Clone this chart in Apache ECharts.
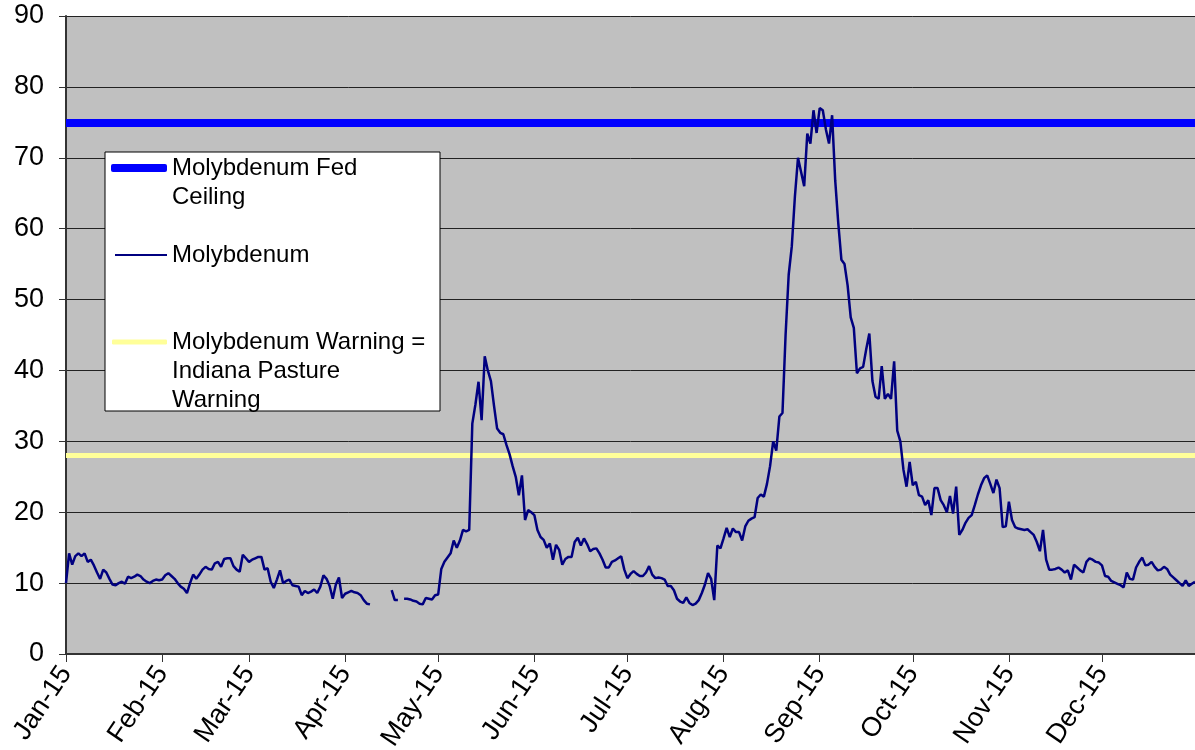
<!DOCTYPE html>
<html>
<head>
<meta charset="utf-8">
<script src="https://cdn.jsdelivr.net/npm/echarts@6/dist/echarts.min.js"></script>
<style>
  html, body { margin: 0; padding: 0; background: #fff; }
  #main { width: 1195px; height: 750px; }
</style>
</head>
<body>
<div id="main"></div>
<script>
// daily Molybdenum readings, one array per month (null = no reading)
const jan = [10.0, 14.2, 12.6, 13.8, 14.2, 13.8, 14.2, 13.0, 13.3, 12.5, 11.5, 10.6, 11.9, 11.5, 10.6, 9.8,
             9.7, 10.0, 10.2, 9.9, 10.9, 10.7, 10.9, 11.2, 11.0, 10.5, 10.2, 10.0, 10.3, 10.5, 10.4];
const feb = [10.5, 11.1, 11.4, 11.0, 10.6, 10.0, 9.5, 9.2, 8.6, 10.0, 11.2, 10.6, 11.2, 11.9, 12.3, 12.0,
             11.9, 12.8, 13.0, 12.3, 13.4, 13.5, 13.5, 12.4, 11.9, 11.6, 14.0, 13.5];
const mar = [13.0, 13.3, 13.5, 13.7, 13.7, 11.9, 12.1, 10.2, 9.3, 10.5, 11.8, 10.0, 10.3, 10.5, 9.7, 9.6,
             9.5, 8.3, 8.9, 8.6, 8.8, 9.1, 8.6, 9.5, 11.1, 10.6, 9.6, 7.8, 9.8, 10.8, 7.9];
const apr = [8.5, 8.7, 8.9, 8.7, 8.6, 8.3, 7.6, 7.1, 7.0, null, null, null, null, null, null, 9.0,
             7.6, 7.6, null, 7.8, 7.8, 7.7, 7.5, 7.4, 7.1, 7.0, 7.9, 7.8, 7.7, 8.3];
const may = [8.4, 12.0, 13.0, 13.6, 14.2, 16.0, 15.0, 16.0, 17.5, 17.3, 17.5, 32.5, 35.2, 38.4, 33.0, 42.0,
             40.0, 38.5, 35.0, 31.8, 31.2, 31.0, 29.5, 28.2, 26.5, 25.0, 22.4, 25.2, 18.9, 20.3, 20.0];
const jun = [19.6, 17.5, 16.5, 16.1, 15.0, 15.6, 13.3, 15.4, 14.7, 12.6, 13.4, 13.7, 13.7, 15.8, 16.4, 15.3,
             16.3, 15.5, 14.5, 14.8, 14.9, 14.2, 13.3, 12.2, 12.2, 13.0, 13.2, 13.5, 13.8, 11.9];
const jul = [10.7, 11.3, 11.7, 11.3, 11.0, 11.0, 11.5, 12.4, 11.2, 10.7, 10.8, 10.7, 10.5, 9.6, 9.6, 9.0,
             7.8, 7.4, 7.2, 8.0, 7.2, 6.9, 7.1, 7.6, 8.6, 9.8, 11.4, 10.6, 7.6, 15.3, 14.9];
const aug = [16.3, 17.8, 16.5, 17.7, 17.2, 17.2, 16.0, 18.0, 18.8, 19.1, 19.3, 22.0, 22.5, 22.2, 24.0, 26.5,
             30.0, 28.7, 33.5, 34.0, 45.0, 53.5, 57.5, 64.5, 70.0, 68.0, 66.0, 73.4, 72.0, 76.7, 73.5];
const sep = [77.0, 76.7, 74.0, 72.0, 76.0, 66.8, 60.7, 55.6, 55.0, 52.0, 47.5, 46.0, 39.6, 40.3, 40.5, 43.0,
             45.2, 38.5, 36.3, 36.0, 40.6, 36.0, 36.7, 36.0, 41.3, 31.5, 30.0, 26.0, 23.6, 27.1];
const oct = [23.8, 24.3, 22.4, 22.2, 21.0, 21.7, 19.6, 23.4, 23.4, 21.7, 21.0, 20.0, 22.3, 19.8, 23.6, 16.8,
             17.5, 18.5, 19.2, 19.6, 21.0, 22.5, 23.8, 24.8, 25.2, 24.0, 22.7, 24.6, 23.4, 17.9, 18.0];
const nov = [21.5, 18.9, 17.9, 17.7, 17.6, 17.5, 17.6, 17.2, 16.8, 15.8, 14.5, 17.5, 13.3, 11.9, 11.9, 12.0,
             12.2, 11.9, 11.5, 11.8, 10.5, 12.6, 12.2, 11.8, 11.5, 13.0, 13.5, 13.3, 13.0, 12.9];
const dec = [12.5, 11.0, 10.9, 10.3, 10.1, 9.9, 9.7, 9.4, 11.5, 10.6, 10.5, 12.2, 13.0, 13.6, 12.5, 12.6,
             13.0, 12.3, 11.8, 11.9, 12.3, 12.0, 11.2, 10.8, 10.4, 10.0, 9.6, 10.4, 9.6, 9.9, 10.2];

const monthNames = ['Jan', 'Feb', 'Mar', 'Apr', 'May', 'Jun', 'Jul', 'Aug', 'Sep', 'Oct', 'Nov', 'Dec'];
const months = [jan, feb, mar, apr, may, jun, jul, aug, sep, oct, nov, dec];

const ceilingValue = 75;   // Molybdenum Fed Ceiling
const warningValue = 28;   // Molybdenum Warning = Indiana Pasture Warning

// one category per day, "m-d"
var days = [];
var molybdenum = [];
months.forEach(function (arr, m) {
    arr.forEach(function (v, i) {
        days.push(m + '-' + (i + 1));
        molybdenum.push(v);
    });
});

function isMonthStart(idx, value) {
    return value.split('-')[1] === '1';
}

var font = "'Liberation Sans', Arial, sans-serif";
var legendText = { color: '#000', fontSize: 24, fontFamily: font, lineHeight: 29 };
var myChart = echarts.init(document.getElementById('main'));

myChart.setOption({
    animation: false,
    backgroundColor: '#fff',
    grid: {
        left: 66, right: 0, top: 16, bottom: 96,
        outerBoundsMode: 'none', containLabel: false,
        backgroundColor: '#c0c0c0', show: true, borderWidth: 0
    },
    xAxis: {
        type: 'category',
        data: days,
        boundaryGap: false,
        axisLine: { lineStyle: { color: '#333', width: 2 } },
        axisTick: { interval: isMonthStart, length: 8, lineStyle: { color: '#333' } },
        axisLabel: {
            interval: isMonthStart,
            rotate: 56,
            margin: 15,
            color: '#000',
            fontSize: 27,
            fontFamily: font,
            formatter: function (value) {
                return monthNames[+value.split('-')[0]] + '-15';
            }
        },
        splitLine: { show: false }
    },
    yAxis: {
        type: 'value',
        min: 0,
        max: 90,
        interval: 10,
        axisLine: { show: true, lineStyle: { color: '#333', width: 2 } },
        axisTick: { show: true, length: 7, lineStyle: { color: '#333' } },
        axisLabel: { margin: 22, color: '#000', fontSize: 27, fontFamily: font },
        splitLine: { lineStyle: { color: '#222', width: 1 } }
    },
    // blank leading lines keep the sample line beside the first text line
    legend: [
        {
            data: [{ name: 'Molybdenum Fed Ceiling', icon: 'roundRect' }],
            left: 111, top: 124.5, padding: 0,
            itemWidth: 56, itemHeight: 8,
            selectedMode: false,
            formatter: function () { return ' \nMolybdenum Fed\nCeiling'; },
            textStyle: legendText
        },
        {
            data: [{ name: 'Molybdenum', icon: 'rect' }],
            left: 115, top: 240.5, padding: 0,
            itemWidth: 52, itemHeight: 2,
            selectedMode: false,
            textStyle: legendText
        },
        {
            data: [{ name: 'Molybdenum Warning', icon: 'roundRect' }],
            left: 112, top: 269.5, padding: 0,
            itemWidth: 55, itemHeight: 5,
            selectedMode: false,
            formatter: function () { return ' \n \nMolybdenum Warning =\nIndiana Pasture\nWarning'; },
            textStyle: legendText
        }
    ],
    graphic: [{
        type: 'rect',
        z: 3,
        shape: { x: 105, y: 152, width: 335, height: 259 },
        style: { fill: '#fff', stroke: '#000', lineWidth: 1 }
    }],
    series: [
        {
            name: 'Molybdenum Fed Ceiling',
            type: 'line',
            data: [],
            z: 2,
            symbol: 'none',
            lineStyle: { color: '#0000ff', width: 8 },
            itemStyle: { color: '#0000ff' },
            markLine: {
                silent: true,
                symbol: ['none', 'none'],
                label: { show: false },
                lineStyle: { color: '#0000ff', width: 8, type: 'solid' },
                data: [{ yAxis: ceilingValue }]
            }
        },
        {
            name: 'Molybdenum',
            type: 'line',
            data: molybdenum,
            z: 5,
            symbol: 'none',
            connectNulls: false,
            lineStyle: { color: '#000080', width: 2.5 },
            itemStyle: { color: '#000080' }
        },
        {
            name: 'Molybdenum Warning',
            type: 'line',
            data: [],
            z: 2,
            symbol: 'none',
            lineStyle: { color: '#ffff99', width: 5 },
            itemStyle: { color: '#ffff99' },
            markLine: {
                silent: true,
                symbol: ['none', 'none'],
                label: { show: false },
                lineStyle: { color: '#ffff99', width: 5, type: 'solid' },
                data: [{ yAxis: warningValue }]
            }
        }
    ]
});
</script>
</body>
</html>
